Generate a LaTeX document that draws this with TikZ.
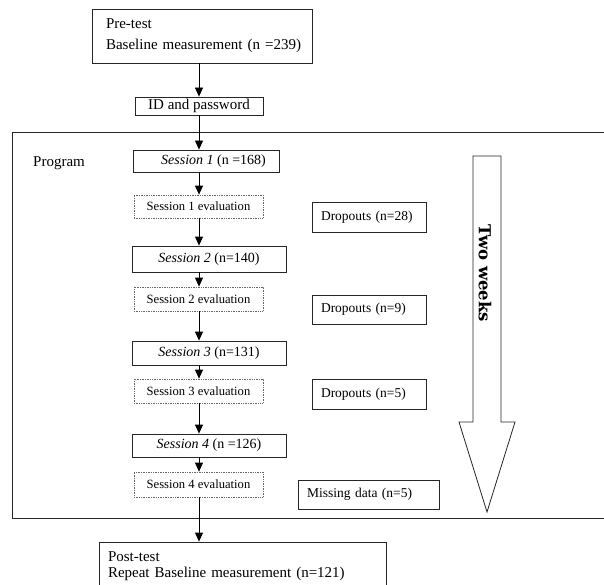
\documentclass[tikz,border=0pt]{standalone}
\usepackage{fontspec}
\setmainfont{Liberation Serif}
\newfontfamily\twofont{DejaVu Serif}
\usetikzlibrary{arrows.meta}
\begin{document}
\begin{tikzpicture}[x=1pt,y=-1pt,
  box/.style={draw=black!85, line width=0.8pt, inner sep=0pt, font=\fontsize{15}{17}\selectfont},
  sbox/.style={box, font=\fontsize{14}{16}\selectfont},
  dbox/.style={box, font=\fontsize{13.5}{16}\selectfont},
  evalbox/.style={draw=black!60, densely dotted, line width=0.7pt, inner sep=0pt, font=\fontsize{12.6}{14}\selectfont},
  arr/.style={line width=0.8pt, -{Triangle[length=9pt,width=8pt]}},
  lbl/.style={font=\fontsize{15}{17}\selectfont, inner sep=0pt}
]
\useasboundingbox (0,0) rectangle (604,585);
% program frame
\draw[line width=0.8pt, draw=black!85] (12,132) rectangle (612,518);
\node[lbl, anchor=west] (prog) at (33,163) {Program};

% main column
\node[box, minimum width=220pt, minimum height=54pt, text width=192pt, align=left,
  font=\fontsize{15}{21}\selectfont] (pre) at (202,36) {Pre-test\\\mbox{Baseline measurement (n =239)}};
\node[box, minimum width=128pt, minimum height=18pt] (id) at (199,106) {ID and password};
\node[sbox, minimum width=146pt, minimum height=22pt] (s1) at (206,161) {\hspace*{15pt}\textit{Session 1} (n =168)};
\node[evalbox, minimum width=129pt, minimum height=23pt] (e1) at (198.5,206.5) {Session 1 evaluation};
\node[sbox, minimum width=154pt, minimum height=26pt] (s2) at (209,259) {\textit{Session 2} (n=140)};
\node[evalbox, minimum width=129pt, minimum height=24pt] (e2) at (198.5,299) {Session 2 evaluation};
\node[sbox, minimum width=154pt, minimum height=24pt] (s3) at (209,353) {\textit{Session 3} (n=131)};
\node[evalbox, minimum width=129pt, minimum height=24pt] (e3) at (198.5,391) {Session 3 evaluation};
\node[sbox, minimum width=154pt, minimum height=23pt] (s4) at (209,445.5) {\textit{Session 4} (n =126)};
\node[evalbox, minimum width=129pt, minimum height=25pt] (e4) at (198.5,484.5) {Session 4 evaluation};
\node[box, minimum width=287pt, minimum height=48pt, text width=269pt, align=left,
  font=\fontsize{15}{15.5}\selectfont] (post) at (242.5,566) {Post-test\\\mbox{Repeat Baseline measurement (n=121)}};

% side boxes
\node[dbox, minimum width=114pt, minimum height=30pt, text width=96pt, align=left] (d1) at (369,217) {Dropouts (n=28)};
\node[dbox, minimum width=114pt, minimum height=29pt, text width=96pt, align=left] (d2) at (369,309.5) {Dropouts (n=9)};
\node[dbox, minimum width=114pt, minimum height=30pt, text width=96pt, align=left] (d3) at (369,394) {Dropouts (n=5)};
\node[dbox, minimum width=141pt, minimum height=29pt, text width=123pt, align=left] (md) at (368.5,494.5) {Missing data (n=5)};

% arrows
\draw[arr] (pre.south -| id) -- (id.north);
\draw[arr] (id.south) -- (s1.north -| id);
\draw[arr] (s1.south -| id) -- (e1.north -| id);
\draw[arr] (e1.south -| id) -- (s2.north -| id);
\draw[arr] (s2.south -| id) -- (e2.north -| id);
\draw[arr] (e2.south -| id) -- (s3.north -| id);
\draw[arr] (s3.south -| id) -- (e3.north -| id);
\draw[arr] (e3.south -| id) -- (s4.north -| id);
\draw[arr] (s4.south -| id) -- (e4.north -| id);
\draw[arr] (e4.south -| id) -- (post.north -| id);

% two weeks block arrow
\draw[line width=0.8pt, draw=black!85, fill=white]
  (473,156) -- (501,156) -- (501,422) -- (515,422) -- (487,512) -- (459,422) -- (473,422) -- cycle;
\node[rotate=-90, inner sep=0pt, font=\twofont\bfseries\fontsize{16.5}{18}\selectfont] (tw) at (485,273.5) {Two weeks};
\end{tikzpicture}
\end{document}
